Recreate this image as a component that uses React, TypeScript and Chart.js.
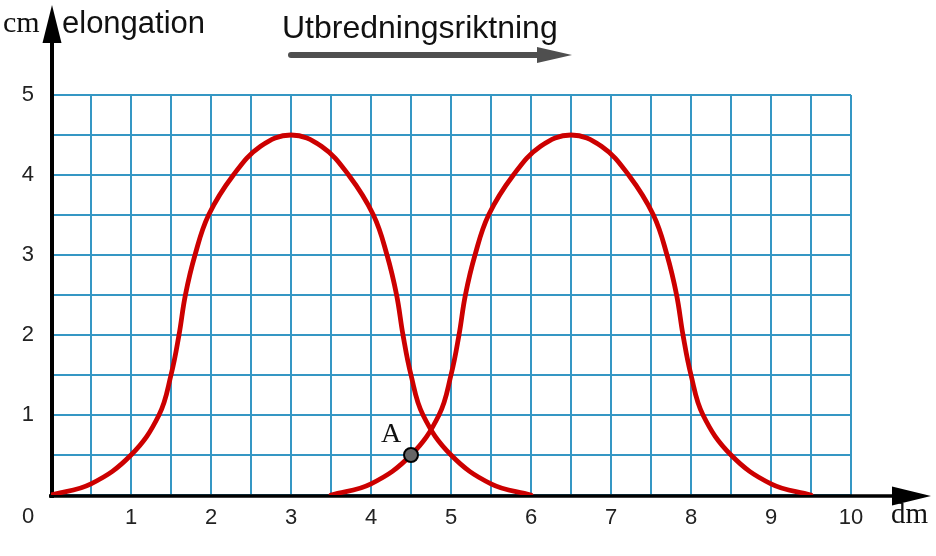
import React, { useEffect, useRef } from 'react';
import { Chart, registerables } from 'chart.js';

Chart.register(...registerables);

// ---- data ----
const xTickLabels = ['0', '1', '2', '3', '4', '5', '6', '7', '8', '9', '10'];
const yTickLabels = ['0', '1', '2', '3', '4', '5'];

const wave1X = [0, 0.5, 1, 1.35, 1.5, 1.6, 1.68, 1.8, 1.97, 2.28, 2.62, 3, 3.38, 3.72, 4.03, 4.2, 4.32, 4.4, 4.5, 4.65, 5, 5.5, 6];
const wave1Y = [0, 0.14, 0.5, 1, 1.5, 2, 2.5, 3, 3.5, 4, 4.36, 4.5, 4.36, 4, 3.5, 3, 2.5, 2, 1.5, 1, 0.5, 0.14, 0];

const wave2X = [3.5, 4, 4.5, 4.85, 5, 5.1, 5.18, 5.3, 5.47, 5.78, 6.12, 6.5, 6.88, 7.22, 7.53, 7.7, 7.82, 7.9, 8, 8.15, 8.5, 9, 9.5];
const wave2Y = [0, 0.14, 0.5, 1, 1.5, 2, 2.5, 3, 3.5, 4, 4.36, 4.5, 4.36, 4, 3.5, 3, 2.5, 2, 1.5, 1, 0.5, 0.14, 0];

const pointAX = [4.5];
const pointAY = [0.5];

const yAxisLabel = 'elongation';
const yUnit = 'cm';
const xUnit = 'dm';
const directionLabel = 'Utbredningsriktning';
const pointLabel = 'A';

const SANS = '"Liberation Sans", Arial, sans-serif';
const SERIF = '"Liberation Serif", "Times New Roman", serif';

const decorPlugin = {
  id: 'decor',
  beforeDatasetsDraw(chart: any) {
    const { ctx } = chart;
    const xs = chart.scales.x;
    const ys = chart.scales.y;
    const x0 = xs.getPixelForValue(0) + 1;
    const y0 = ys.getPixelForValue(0) + 1;
    ctx.save();
    ctx.strokeStyle = '#000';
    ctx.fillStyle = '#000';
    ctx.lineWidth = 4;
    // y axis
    ctx.beginPath();
    ctx.moveTo(x0, y0 + 2);
    ctx.lineTo(x0, 40);
    ctx.stroke();
    ctx.beginPath();
    ctx.moveTo(x0, 5);
    ctx.lineTo(x0 - 9.5, 43);
    ctx.lineTo(x0 + 9.5, 43);
    ctx.closePath();
    ctx.fill();
    // x axis
    ctx.lineWidth = 3.6;
    ctx.beginPath();
    ctx.moveTo(x0 - 3, y0);
    ctx.lineTo(896, y0);
    ctx.stroke();
    ctx.beginPath();
    ctx.moveTo(931, y0);
    ctx.lineTo(892, y0 - 9.5);
    ctx.lineTo(892, y0 + 9.5);
    ctx.closePath();
    ctx.fill();
    ctx.restore();
  },
  afterDraw(chart: any) {
    const { ctx } = chart;
    const xs = chart.scales.x;
    const ys = chart.scales.y;
    ctx.save();
    ctx.fillStyle = '#111';
    ctx.textBaseline = 'alphabetic';
    // unit labels
    ctx.font = `30px ${SERIF}`;
    ctx.textAlign = 'left';
    ctx.fillText(yUnit, 3, 32);
    ctx.font = `29px ${SERIF}`;
    ctx.fillText(xUnit, 891, 523);
    // axis title
    ctx.font = `31px ${SANS}`;
    ctx.fillText(yAxisLabel, 62, 33);
    // direction label
    ctx.font = `32px ${SANS}`;
    ctx.fillText(directionLabel, 282, 38);
    // origin label
    ctx.font = `22px ${SANS}`;
    ctx.textAlign = 'center';
    ctx.textBaseline = 'middle';
    ctx.fillStyle = '#222';
    ctx.fillText(xTickLabels[0], 28, 517);
    // point label
    const px = xs.getPixelForValue(pointAX[0]);
    const py = ys.getPixelForValue(pointAY[0]);
    ctx.font = `28px ${SERIF}`;
    ctx.textAlign = 'center';
    ctx.textBaseline = 'alphabetic';
    ctx.fillStyle = '#111';
    ctx.fillText(pointLabel, px - 20, py - 13);
    // direction arrow
    ctx.strokeStyle = '#4f4f4f';
    ctx.fillStyle = '#4f4f4f';
    ctx.lineWidth = 6;
    ctx.lineCap = 'round';
    ctx.beginPath();
    ctx.moveTo(291, 55);
    ctx.lineTo(540, 55);
    ctx.stroke();
    ctx.beginPath();
    ctx.moveTo(572, 55);
    ctx.lineTo(537, 47);
    ctx.lineTo(537, 63);
    ctx.closePath();
    ctx.fill();
    ctx.restore();
  },
};

const toPoints = (xsArr: number[], ysArr: number[]) => xsArr.map((x, i) => ({ x, y: ysArr[i] }));

const labelFor = (labels: string[]) => (v: any) => {
  const n = Math.round(Number(v) * 1000) / 1000;
  if (Number.isInteger(n) && n !== 0) return labels[n] ?? '';
  return '';
};

const waveStyle = {
  type: 'line',
  showLine: true,
  borderColor: '#cc0000',
  borderWidth: 4.8,
  pointRadius: 0,
  tension: 0.4,
  cubicInterpolationMode: 'default',
  borderCapStyle: 'round',
  borderJoinStyle: 'round',
  fill: false,
};

export default function App() {
  const ref = useRef<HTMLCanvasElement | null>(null);
  useEffect(() => {
    if (!ref.current) return;
    const chart = new Chart(ref.current, {
      type: 'line',
      data: {
        datasets: [
          {
            type: 'line',
            label: 'A',
            data: toPoints(pointAX, pointAY),
            pointRadius: 7,
            pointBackgroundColor: '#666666',
            pointBorderColor: '#000000',
            pointBorderWidth: 2,
            showLine: false,
          },
          { label: 'wave1', data: toPoints(wave1X, wave1Y), ...waveStyle },
          { label: 'wave2', data: toPoints(wave2X, wave2Y), ...waveStyle },
        ],
      },
      options: {
        responsive: false,
        animation: false,
        layout: { padding: { left: 0, top: 95, right: 85, bottom: 0 } },
        plugins: { legend: { display: false }, tooltip: { enabled: false } },
        scales: {
          x: {
            type: 'linear',
            min: 0,
            max: 10,
            afterFit: (s: any) => { s.height = 61; },
            border: { display: false },
            grid: { color: '#3597c4', lineWidth: 2, drawTicks: false },
            ticks: {
              stepSize: 0.5,
              autoSkip: false,
              maxRotation: 0,
              padding: 10,
              color: '#222',
              font: { family: SANS, size: 22 },
              callback: labelFor(xTickLabels),
            },
          },
          y: {
            type: 'linear',
            min: 0,
            max: 5,
            afterFit: (s: any) => { s.width = 51; },
            border: { display: false },
            grid: { color: '#3597c4', lineWidth: 2, drawTicks: false },
            ticks: {
              stepSize: 0.5,
              autoSkip: false,
              padding: 17,
              color: '#222',
              font: { family: SANS, size: 22 },
              callback: labelFor(yTickLabels),
            },
          },
        },
      },
      plugins: [decorPlugin],
    } as any);
    return () => chart.destroy();
  }, []);
  return (
    <div style={{ position: 'absolute', left: 0, top: 0, width: 936, height: 556, background: '#fff' }}>
      <canvas ref={ref} width={936} height={556} style={{ display: 'block' }} />
    </div>
  );
}
